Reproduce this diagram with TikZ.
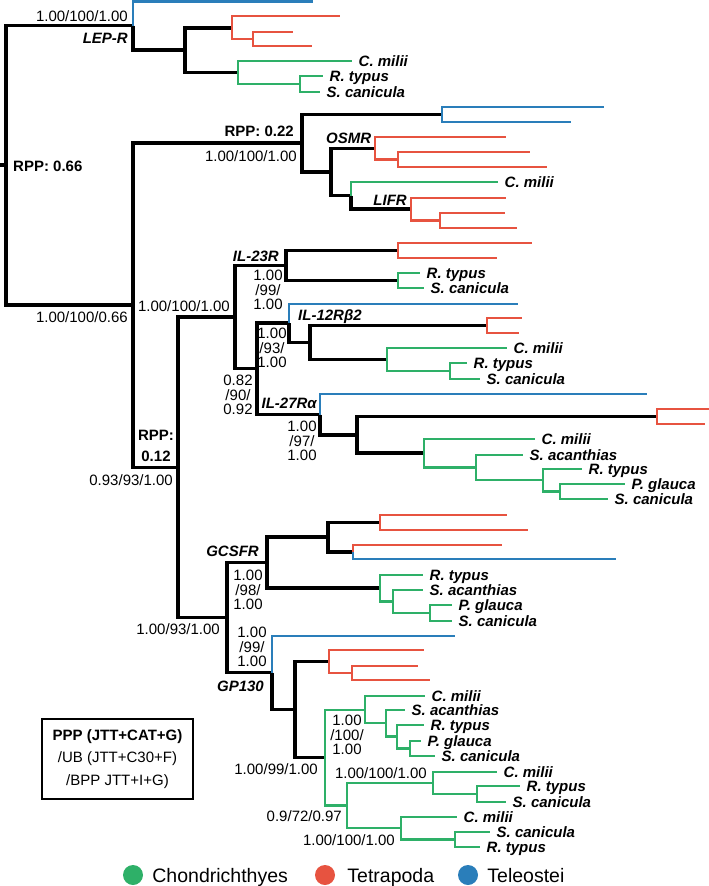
\documentclass[tikz,border=0pt]{standalone}
\usepackage{fontspec}
\setmainfont{Liberation Sans}
\usetikzlibrary{positioning}
\definecolor{chondro}{RGB}{46,176,104}
\definecolor{tetra}{RGB}{231,83,64}
\definecolor{teleo}{RGB}{42,126,186}
\tikzset{
  blk/.style={line width=3.2pt},
  chd/.style={line width=2.9pt, chondro},
  tet/.style={line width=2.9pt, tetra},
  tlo/.style={line width=2.9pt, teleo},
  sp/.style={font=\fontsize{15}{15}\selectfont\bfseries\itshape, inner sep=0pt, text height=10.7pt, text depth=0pt},
  bs/.style={font=\fontsize{15}{15}\selectfont, inner sep=0pt, text height=10.7pt, text depth=0pt},
  bss/.style={font=\fontsize{15}{14.7}\selectfont, inner sep=0pt, align=center},
  rpp/.style={font=\fontsize{15}{15}\selectfont\bfseries, inner sep=0pt, text height=10.7pt, text depth=0pt},
  rppst/.style={font=\fontsize{15}{21}\selectfont\bfseries, inner sep=0pt, align=center},
  dot/.style={circle, inner sep=0pt, minimum size=20pt},
  leg/.style={font=\fontsize{19.5}{19.5}\selectfont, inner sep=0pt, text height=14pt, text depth=0pt}
}
\begin{document}
\begin{tikzpicture}[x=1pt,y=-1pt]
\useasboundingbox (0,0) rectangle (709,886);

% root and LEP-R
\coordinate (rs) at (0,165);
\coordinate (rt) at (6,165);
\coordinate (lep) at (133,25.5);
\coordinate (lepA) at (313,1.5);
\coordinate (lep1) at (185,50);
\coordinate (lep2) at (232,28);
\coordinate (lep2a) at (340,16);
\coordinate (lep3) at (253,39);
\coordinate (lep3a) at (293,32);
\coordinate (lep3b) at (312,46);
\coordinate (lep4) at (238,72.5);
\coordinate (lep4a) at (352,61);
\coordinate (lep5) at (300,84);
\coordinate (lep5a) at (323,76);
\coordinate (lep5b) at (320,92);

% OSMR / LIFR
\coordinate (n1) at (133,305);
\coordinate (osm0) at (302,143);
\coordinate (osmT) at (442,114.5);
\coordinate (osmTa) at (604,107);
\coordinate (osmTb) at (571,122);
\coordinate (osm) at (331,172);
\coordinate (osm1) at (375,148.5);
\coordinate (osm1a) at (506,137);
\coordinate (osm2) at (398,159.5);
\coordinate (osm2a) at (530,152);
\coordinate (osm2b) at (547,167);
\coordinate (lif) at (351,195.5);
\coordinate (lifA) at (498,182);
\coordinate (lif1) at (411,209);
\coordinate (lif1a) at (506,198);
\coordinate (lif2) at (440,220.5);
\coordinate (lif2a) at (505,213);
\coordinate (lif2b) at (517,228);

% IL-23R / IL-12Rb2 / IL-27Ra
\coordinate (n2) at (178,467.5);
\coordinate (il) at (235,317);
\coordinate (il23) at (286,265.5);
\coordinate (il23r) at (398,250.5);
\coordinate (il23ra) at (532,243);
\coordinate (il23rb) at (497,258);
\coordinate (il23g) at (398,280.5);
\coordinate (il23ga) at (420,273);
\coordinate (il23gb) at (424,288);
\coordinate (il2) at (257,368.5);
\coordinate (il12) at (289,323);
\coordinate (il12A) at (518,304);
\coordinate (il12x) at (310,342.5);
\coordinate (il12r) at (487,325.5);
\coordinate (il12ra) at (522,318);
\coordinate (il12rb) at (519,333);
\coordinate (il12g) at (387,359.5);
\coordinate (il12ga) at (507,348);
\coordinate (il12h) at (450,371);
\coordinate (il12ha) at (467,363);
\coordinate (il12hb) at (480,379);
\coordinate (il27) at (320,414.5);
\coordinate (il27A) at (647,394);
\coordinate (il27x) at (357,435);
\coordinate (il27r) at (657,416.5);
\coordinate (il27ra) at (712,409);
\coordinate (il27rb) at (705,424);
\coordinate (il27g) at (424,453);
\coordinate (il27ga) at (535,439);
\coordinate (il27h) at (476,467.5);
\coordinate (il27ha) at (523,455);
\coordinate (il27i) at (543,480);
\coordinate (il27ia) at (582,469);
\coordinate (il27j) at (560,491.5);
\coordinate (il27ja) at (625,484);
\coordinate (il27jb) at (608,499);

% GCSFR / GP130
\coordinate (n3) at (227,617.5);
\coordinate (gcs) at (267,562.5);
\coordinate (gcs1) at (328,537);
\coordinate (gcs2) at (380,522.5);
\coordinate (gcs2a) at (507,515);
\coordinate (gcs2b) at (528,530);
\coordinate (gcs3) at (353,552);
\coordinate (gcs3a) at (502,545);
\coordinate (gcs3b) at (616,559);
\coordinate (gcsg) at (380,588);
\coordinate (gcsga) at (423,575);
\coordinate (gcsh) at (393,601.5);
\coordinate (gcsha) at (423,590);
\coordinate (gcsi) at (430,613);
\coordinate (gcsia) at (452,605);
\coordinate (gcsib) at (452,621);
\coordinate (gp) at (272,672.5);
\coordinate (gpA) at (455,636);
\coordinate (gp1) at (295,709.5);
\coordinate (gpr) at (329,661.5);
\coordinate (gpra) at (424,650);
\coordinate (gps) at (352,673);
\coordinate (gpsa) at (418,666);
\coordinate (gpsb) at (430,680);
\coordinate (gpg) at (325,757.5);
\coordinate (gpg1) at (365,710);
\coordinate (gpg1a) at (425,696);
\coordinate (gpg2) at (386,723);
\coordinate (gpg2a) at (405,710);
\coordinate (gpg3) at (397,736.5);
\coordinate (gpg3a) at (424,725);
\coordinate (gpg4) at (410,748.5);
\coordinate (gpg4a) at (421,741);
\coordinate (gpg4b) at (435,756);
\coordinate (gph) at (347,805.5);
\coordinate (gph1) at (433,783);
\coordinate (gph1a) at (497,772);
\coordinate (gph2) at (477,794);
\coordinate (gph2a) at (520,786);
\coordinate (gph2b) at (506,802);
\coordinate (gph3) at (401,828);
\coordinate (gph3a) at (457,817);
\coordinate (gph4) at (455,839.5);
\coordinate (gph4a) at (490,832);
\coordinate (gph4b) at (480,847);

% black backbone
\draw[blk] (rs) -- (rt);
\draw[blk] (rt) |- (lep) (rt) |- (n1);
\draw[blk] (lep) |- (lep1) (lep1) |- (lep2) (lep1) |- (lep4);
\draw[blk] (n1) |- (osm0) (n1) |- (n2);
\draw[blk] (osm0) |- (osmT) (osm0) |- (osm) (osm) |- (osm1) (osm) |- (lif) (lif) |- (lif1);
\draw[blk] (n2) |- (il) (n2) |- (n3);
\draw[blk] (il) |- (il23) (il) |- (il2) (il23) |- (il23r) (il23) |- (il23g);
\draw[blk] (il2) |- (il12) (il2) |- (il27);
\draw[blk] (il12) |- (il12x) (il12x) |- (il12r) (il12x) |- (il12g);
\draw[blk] (il27) |- (il27x) (il27x) |- (il27r) (il27x) |- (il27g);
\draw[blk] (n3) |- (gcs) (n3) |- (gp);
\draw[blk] (gcs) |- (gcs1) (gcs) |- (gcsg) (gcs1) |- (gcs2) (gcs1) |- (gcs3);
\draw[blk] (gp) |- (gp1) (gp1) |- (gpr) (gp1) |- (gpg);

% Teleostei
\draw[tlo] (lep) |- (lepA);
\draw[tlo] (osmT) |- (osmTa) (osmT) |- (osmTb);
\draw[tlo] (il12) |- (il12A);
\draw[tlo] (il27) |- (il27A);
\draw[tlo] (gcs3) |- (gcs3b);
\draw[tlo] (gp) |- (gpA);

% Tetrapoda
\draw[tet] (lep2) |- (lep2a) (lep2) |- (lep3) (lep3) |- (lep3a) (lep3) |- (lep3b);
\draw[tet] (osm1) |- (osm1a) (osm1) |- (osm2) (osm2) |- (osm2a) (osm2) |- (osm2b);
\draw[tet] (lif1) |- (lif1a) (lif1) |- (lif2) (lif2) |- (lif2a) (lif2) |- (lif2b);
\draw[tet] (il23r) |- (il23ra) (il23r) |- (il23rb);
\draw[tet] (il12r) |- (il12ra) (il12r) |- (il12rb);
\draw[tet] (il27r) |- (il27ra) (il27r) |- (il27rb);
\draw[tet] (gcs2) |- (gcs2a) (gcs2) |- (gcs2b) (gcs3) |- (gcs3a);
\draw[tet] (gpr) |- (gpra) (gpr) |- (gps) (gps) |- (gpsa) (gps) |- (gpsb);

% Chondrichthyes
\draw[chd] (lep4) |- (lep4a) (lep4) |- (lep5) (lep5) |- (lep5a) (lep5) |- (lep5b);
\draw[chd] (lif) |- (lifA);
\draw[chd] (il23g) |- (il23ga) (il23g) |- (il23gb);
\draw[chd] (il12g) |- (il12ga) (il12g) |- (il12h) (il12h) |- (il12ha) (il12h) |- (il12hb);
\draw[chd] (il27g) |- (il27ga) (il27g) |- (il27h) (il27h) |- (il27ha) (il27h) |- (il27i);
\draw[chd] (il27i) |- (il27ia) (il27i) |- (il27j) (il27j) |- (il27ja) (il27j) |- (il27jb);
\draw[chd] (gcsg) |- (gcsga) (gcsg) |- (gcsh) (gcsh) |- (gcsha) (gcsh) |- (gcsi);
\draw[chd] (gcsi) |- (gcsia) (gcsi) |- (gcsib);
\draw[chd] (gpg) |- (gpg1) (gpg) |- (gph);
\draw[chd] (gpg1) |- (gpg1a) (gpg1) |- (gpg2) (gpg2) |- (gpg2a) (gpg2) |- (gpg3);
\draw[chd] (gpg3) |- (gpg3a) (gpg3) |- (gpg4) (gpg4) |- (gpg4a) (gpg4) |- (gpg4b);
\draw[chd] (gph) |- (gph1) (gph) |- (gph3) (gph1) |- (gph1a) (gph1) |- (gph2);
\draw[chd] (gph2) |- (gph2a) (gph2) |- (gph2b) (gph3) |- (gph3a) (gph3) |- (gph4);
\draw[chd] (gph4) |- (gph4a) (gph4) |- (gph4b);

% species
\node[sp, right=6.5pt of lep4a] (nlep4a) {C. milii};
\node[sp, right=6.5pt of lep5a] (nlep5a) {R. typus};
\node[sp, right=6.5pt of lep5b] (nlep5b) {S. canicula};
\node[sp, right=6.5pt of lifA] (nlifA) {C. milii};
\node[sp, right=6.5pt of il23ga] (nil23ga) {R. typus};
\node[sp, right=6.5pt of il23gb] (nil23gb) {S. canicula};
\node[sp, right=6.5pt of il12ga] (nil12ga) {C. milii};
\node[sp, right=6.5pt of il12ha] (nil12ha) {R. typus};
\node[sp, right=6.5pt of il12hb] (nil12hb) {S. canicula};
\node[sp, right=6.5pt of il27ga] (nil27ga) {C. milii};
\node[sp, right=6.5pt of il27ha] (nil27ha) {S. acanthias};
\node[sp, right=6.5pt of il27ia] (nil27ia) {R. typus};
\node[sp, right=6.5pt of il27ja] (nil27ja) {P. glauca};
\node[sp, right=6.5pt of il27jb] (nil27jb) {S. canicula};
\node[sp, right=6.5pt of gcsga] (ngcsga) {R. typus};
\node[sp, right=6.5pt of gcsha] (ngcsha) {S. acanthias};
\node[sp, right=6.5pt of gcsia] (ngcsia) {P. glauca};
\node[sp, right=6.5pt of gcsib] (ngcsib) {S. canicula};
\node[sp, right=6.5pt of gpg1a] (ngpg1a) {C. milii};
\node[sp, right=6.5pt of gpg2a] (ngpg2a) {S. acanthias};
\node[sp, right=6.5pt of gpg3a] (ngpg3a) {R. typus};
\node[sp, right=6.5pt of gpg4a] (ngpg4a) {P. glauca};
\node[sp, right=6.5pt of gpg4b] (ngpg4b) {S. canicula};
\node[sp, right=6.5pt of gph1a] (ngph1a) {C. milii};
\node[sp, right=6.5pt of gph2a] (ngph2a) {R. typus};
\node[sp, right=6.5pt of gph2b] (ngph2b) {S. canicula};
\node[sp, right=6.5pt of gph3a] (ngph3a) {C. milii};
\node[sp, right=6.5pt of gph4a] (ngph4a) {S. canicula};
\node[sp, right=6.5pt of gph4b] (ngph4b) {R. typus};

% gene names
\node[sp, anchor=east] (gLEP) at (128,38) {LEP-R};
\node[sp, anchor=west] (gOSM) at (326,138) {OSMR};
\node[sp, anchor=east] (gLIF) at (407,200) {LIFR};
\node[sp, anchor=east] (gIL23) at (279,256) {IL-23R};
\node[sp, anchor=west] (gIL12) at (298,315) {IL-12Rβ2};
\node[sp, anchor=east] (gIL27) at (317,403) {IL-27Rα};
\node[sp, anchor=east] (gGCS) at (259,551) {GCSFR};
\node[sp, anchor=east] (gGP) at (264,686) {GP130};

% support values
\node[bs, anchor=east] (s1) at (128,16) {1.00/100/1.00};
\node[rpp, anchor=west] (r1) at (13,166) {RPP: 0.66};
\node[bs, anchor=east] (s2) at (128,317) {1.00/100/0.66};
\node[rpp, anchor=east] (r2) at (294,131) {RPP: 0.22};
\node[bs, anchor=east] (s3) at (297,156) {1.00/100/1.00};
\node[bss] (s4) at (268,290) {1.00\\/99/\\1.00};
\node[bs, anchor=east] (s5) at (230,306) {1.00/100/1.00};
\node[bss] (s6) at (272,348) {1.00\\/93/\\1.00};
\node[bss] (s7) at (238,395) {0.82\\/90/\\0.92};
\node[bss] (s8) at (302,441) {1.00\\/97/\\1.00};
\node[rppst] (r3) at (156,445.5) {RPP:\\0.12};
\node[bs, anchor=east] (s9) at (173,480) {0.93/93/1.00};
\node[bss] (s10) at (248,590) {1.00\\/98/\\1.00};
\node[bs, anchor=east] (s11) at (220,629) {1.00/93/1.00};
\node[bss] (s12) at (252,647) {1.00\\/99/\\1.00};
\node[bss] (s13) at (347,735) {1.00\\/100/\\1.00};
\node[bs, anchor=east] (s14) at (318,769) {1.00/99/1.00};
\node[bs, anchor=east] (s15) at (427,773) {1.00/100/1.00};
\node[bs, anchor=east] (s16) at (342,816) {0.9/72/0.97};
\node[bs, anchor=east] (s17) at (395,840) {1.00/100/1.00};

% key box
\node[draw, line width=1.3pt, minimum width=151pt, minimum height=80pt, align=center,
  font=\fontsize{15}{22.5}\selectfont, inner sep=0pt] (key) at (117.5,759)
  {{\bfseries PPP (JTT+CAT+G)}\\/UB (JTT+C30+F)\\/BPP JTT+I+G)};

% legend
\node[dot, fill=chondro] (dC) at (133,875) {};
\node[leg, right=9pt of dC] (lC) {Chondrichthyes};
\node[dot, fill=tetra] (dT) at (325,875) {};
\node[leg, right=12pt of dT] (lT) {Tetrapoda};
\node[dot, fill=teleo] (dB) at (468,875) {};
\node[leg, right=9pt of dB] (lB) {Teleostei};
\end{tikzpicture}
\end{document}
